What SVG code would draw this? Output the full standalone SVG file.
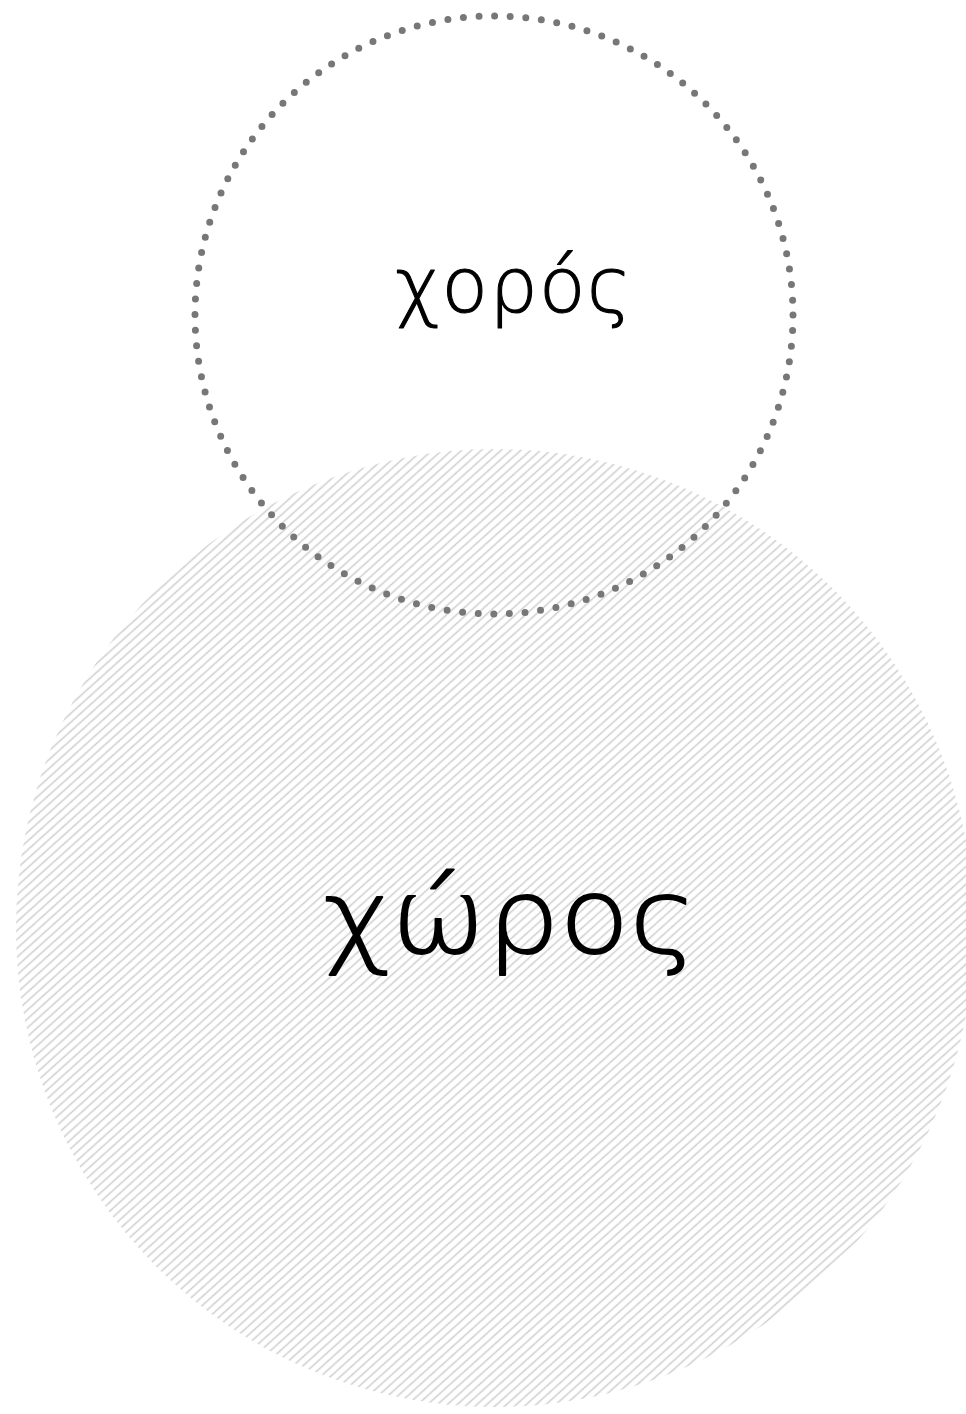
<svg xmlns="http://www.w3.org/2000/svg" width="966" height="1414" viewBox="0 0 966 1414">
  <style>
    .lbl { font-family: "DejaVu Sans", "Noto Sans", sans-serif; font-weight: 200; fill: #000; stroke: #000; stroke-linejoin: round; text-anchor: middle; }
  </style>
  <defs>
    <pattern id="hatch" width="20" height="6.6" patternUnits="userSpaceOnUse" patternTransform="rotate(-42)">
      <line x1="0" y1="3.3" x2="20" y2="3.3" stroke="#cdcdcd" stroke-width="1.5"/>
    </pattern>
  </defs>
  <rect width="966" height="1414" fill="#fff"/>
  <g id="choros-space">
    <circle cx="495" cy="928" r="479" fill="url(#hatch)"/>
    <text class="lbl" transform="translate(510 953) scale(1.1 1)" x="0" y="0" font-size="104" stroke-width="1.8">χώρος</text>
  </g>
  <g id="choros-dance">
    <circle cx="494" cy="315" r="299" fill="none" stroke="#777" stroke-width="7" stroke-linecap="round" stroke-dasharray="0 15.656"/>
    <text class="lbl" x="514" y="312" font-size="76" letter-spacing="1.3" stroke-width="1.1">χορός</text>
  </g>
  <g id="connectors"></g>
</svg>
